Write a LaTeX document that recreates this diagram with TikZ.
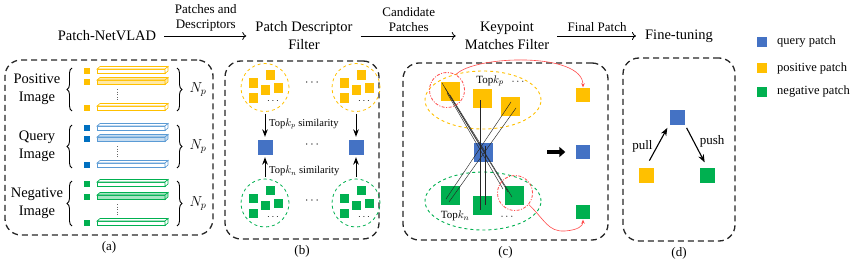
\documentclass[tikz,border=0pt]{standalone}
\usepackage{fontspec}
\setmainfont{Liberation Serif}
\usepackage{tikz}
\usetikzlibrary{arrows.meta,positioning,calc,decorations.pathreplacing,shapes.geometric}

\definecolor{posc}{HTML}{FFC000}
\definecolor{qryc}{HTML}{4472C4}
\definecolor{qryd}{HTML}{0070C0}
\definecolor{qrybar}{HTML}{5B9BD5}
\definecolor{negc}{HTML}{00B050}
\definecolor{matchred}{HTML}{FF4B4B}

\begin{document}
\begin{tikzpicture}[x=1pt, y=1pt,
    font=\fontsize{13}{15}\selectfont,
    >=Stealth,
    title/.style={font=\fontsize{14.5}{18}\selectfont, align=center, inner sep=4pt},
    panel/.style={draw=black!85, line width=1.3pt, dash pattern=on 6pt off 4pt,
                  rounded corners=16pt, inner sep=0pt},
    flow/.style={-{To[length=4pt,width=8pt]}, line width=0.8pt, shorten <=4pt, shorten >=5pt},
    patchsq/.style={minimum size=#1, inner sep=0pt, draw=white, line width=0.4pt},
    poscirc/.style={circle, draw=posc, dashed, line width=0.8pt, minimum size=48pt, inner sep=0pt},
    negcirc/.style={circle, draw=negc, dashed, line width=0.8pt, minimum size=48pt, inner sep=0pt},
    posell/.style={ellipse, draw=posc, dashed, line width=0.9pt, minimum width=116pt, minimum height=58pt},
    negell/.style={ellipse, draw=negc, dashed, line width=0.9pt, minimum width=116pt, minimum height=58pt},
    redring/.style={circle, draw=matchred, line width=0.8pt, minimum size=35pt, inner sep=0pt,
                    dash pattern=on 3pt off 1.5pt on 1pt off 1.5pt},
    match/.style={line width=0.45pt, black!85},
    redlink/.style={-{Stealth[length=4pt,width=3.5pt]}, matchred, line width=0.6pt},
    simlbl/.style={font=\fontsize{10.5}{12}\selectfont, anchor=west, inner sep=1pt},
    toplbl/.style={font=\fontsize{11}{13}\selectfont, inner sep=1pt},
    bar/.style={draw=#1, line width=0.6pt},
    brc/.style={decorate, decoration={brace, amplitude=5pt}, line width=0.9pt},
    ]
\useasboundingbox (0,0) rectangle (856,-262);

% ---- pipeline titles ----
\node[title] (netvlad) at (107,-36) {Patch-NetVLAD};
\node[title] (pdf) at (304,-36) {Patch Descriptor\\Filter};
\node[title] (kmf) at (507,-36) {Keypoint\\Matches Filter};
\node[title] (ft) at (679,-36) {Fine-tuning};

\draw[flow] (netvlad) -- (pdf) node[midway, above=1pt, align=center] (lbl1) {Patches and\\Descriptors};
\draw[flow] (pdf) -- (kmf) node[midway, above=1pt, align=center] (lbl2) {Candidate\\Patches};
\draw[flow] (kmf) -- (ft) node[midway, above=1pt] (lbl3) {Final Patch};

% ---- legend ----
\node[patchsq=11pt, fill=qryc] (lq) at (762,-42) {};
\node[patchsq=11pt, fill=posc] (lp) at (762,-68) {};
\node[patchsq=11pt, fill=negc] (ln) at (762,-92) {};
\node[right=6pt of lq, font=\fontsize{12.5}{14}\selectfont] (lqt) {query patch};
\node[right=6pt of lp, font=\fontsize{12.5}{14}\selectfont] (lpt) {positive patch};
\node[right=6pt of ln, font=\fontsize{12.5}{14}\selectfont] (lnt) {negative patch};

% ---- panels ----
\node[panel, minimum width=208pt, minimum height=175pt] (pa) at (109,-147.5) {};
\node[panel, minimum width=154pt, minimum height=178pt] (pb) at (302,-150) {};
\node[panel, minimum width=205pt, minimum height=177pt] (pc) at (505.5,-151.5) {};
\node[panel, minimum width=112pt, minimum height=183pt] (pd) at (679,-149.5) {};
\node[below=2pt of pa] (pa-cap) {(a)};
\node[below=2pt of pb] (pb-cap) {(b)};
\node[below=2pt of pc] (pc-cap) {(c)};
\node[below=2pt of pd] (pd-cap) {(d)};

% ---- (a) descriptors per image ----
\foreach \col/\dk/\lit/\ya/\yb/\yc/\txt [count=\i] in
   {posc/posc/posc!35/71/82/108/Positive,
    qrybar/qryd/qrybar!35/128/139/165/Query,
    negc/negc/negc!35/184/197/223/Negative} {
  \node[title, inner sep=0pt] (img\i) at (37,{-(\ya+\yc)/2}) {\txt\\Image};
  \foreach \y [count=\j] in {\ya,\yb,\yc}
    \node[patchsq=7pt, fill=\dk] (sq\i-\j) at (87,-\y) {};
  \foreach \y/\f in {\ya/white, \yb/\lit, \yc/white} {
    \filldraw[bar=\col, fill=\f] (97,{-\y-2.5}) rectangle (165,{-\y+2});
    \filldraw[bar=\col, fill=\f] (97,{-\y+2}) -- (100,{-\y+4.5}) -- (168,{-\y+4.5}) -- (165,{-\y+2}) -- cycle;
    \filldraw[bar=\col, fill=\f] (165,{-\y+2}) -- (168,{-\y+4.5}) -- (168,{-\y}) -- (165,{-\y-2.5}) -- cycle;
  }
  \draw[black!60, line width=0.6pt, dash pattern=on 0.6pt off 2pt] (117,{-\yb-7}) -- (117,{-\yc+7});
  \draw[brc] (72,{-\yc-3}) -- (72,{-\ya+3});
  \draw[brc] (177,{-\ya+3}) -- (177,{-\yc-3});
  \node[font=\fontsize{14.5}{17}\selectfont] (np\i) at (198,{-(\ya+\yc)/2}) {$N_p$};
}

% ---- (b) top-k similarity ----
\foreach \cx/\nm in {265/l, 356/r} {
  \node[poscirc] (bp\nm) at (\cx,-87.5) {};
  \node[negcirc] (bn\nm) at (\cx,-203) {};
  \foreach \dx/\dy [count=\k] in {-12/-5, 5/-13, 0/2, 13/0, -12/10} {
    \node[patchsq=10.5pt, fill=posc] (bp\nm-\k) at ({\cx+\dx},{-87.5-\dy}) {};
    \node[patchsq=10.5pt, fill=negc] (bn\nm-\k) at ({\cx+\dx},{-203-\dy}) {};
  }
  \node[inner sep=0pt, font=\fontsize{10}{12}\selectfont] (bp\nm-dots) at ({\cx+8},-101) {$\cdots$};
  \node[inner sep=0pt, font=\fontsize{10}{12}\selectfont] (bn\nm-dots) at ({\cx+8},-217) {$\cdots$};
  \node[patchsq=16pt, fill=qryc] (bq\nm) at (\cx,-147) {};
  \draw[->, line width=1pt, shorten <=2pt, shorten >=2pt] (bp\nm) -- (bq\nm);
  \draw[->, line width=1pt, shorten <=2pt, shorten >=2pt] (bn\nm) -- (bq\nm);
}
\node[simlbl] (simp) at (268,-124) {Top$k_p$ similarity};
\node[simlbl] (simn) at (268,-171) {Top$k_n$ similarity};
\node[inner sep=0pt] (bdots1) at (312,-83) {$\cdots$};
\node[inner sep=0pt] (bdots2) at (312,-145) {$\cdots$};
\node[inner sep=0pt] (bdots3) at (312,-201) {$\cdots$};

% ---- (c) keypoint matches ----
\node[posell] (yell) at (483,-100) {};
\node[negell] (gell) at (483,-201) {};
\node[patchsq=20pt, fill=posc] (cy1) at (450,-91) {};
\node[patchsq=20pt, fill=posc] (cy2) at (482,-98) {};
\node[patchsq=20pt, fill=posc] (cy3) at (510,-106) {};
\node[patchsq=20pt, fill=qryc] (cq) at (483,-152) {};
\node[patchsq=20pt, fill=negc] (cg1) at (450,-195) {};
\node[patchsq=20pt, fill=negc] (cg2) at (482,-205) {};
\node[patchsq=20pt, fill=negc] (cg3) at (514,-195) {};
\node[toplbl] (topkp) at (490,-81) {Top$k_p$};
\node[toplbl] (cdots1) at (518,-82) {$\cdots$};
\node[toplbl] (topkn) at (455,-216) {Top$k_n$};
\node[toplbl] (cdots2) at (507,-217) {$\cdots$};
% match lines
\draw[match] ($(cy1)+(-8,8)$) -- ($(cg3)+(-2,-2)$);
\draw[match] ($(cy1)+(-5,3)$) -- ($(cg3)+(-6,3)$);
\draw[match] ($(cy1)+(-3,-2)$) -- ($(cg3)+(-11,6)$);
\draw[match] ($(cy1)+(0,-4)$) -- ($(cq)+(3,-1)$);
\draw[match] ($(cg1)+(-4,-4)$) -- ($(cy3)+(1,4)$);
\draw[match] ($(cg1)+(-1,-7)$) -- ($(cy3)+(6,-2)$);
\draw[match] ($(cy2)+(-2,-2)$) -- ($(cg2)+(-2,-5)$);
\draw[match] ($(cq)+(2,6)$) -- ($(cg2)+(3,0)$);
\node[redring] (rc1) at (447,-90) {};
\node[redring] (rc2) at (515,-193) {};
% selected patches
\node[patchsq=15pt, fill=posc] (fy) at (583,-95) {};
\node[patchsq=15pt, fill=qryc] (fb) at (583,-152) {};
\node[patchsq=15pt, fill=negc] (fg) at (583,-212) {};
\coordinate (sel) at (547,-152);
\draw[-{Triangle[length=6pt,width=10pt]}, line width=3.5pt, shorten >=10pt] (sel) -- (fb);
\draw[redlink] (rc1.60) .. controls (475,-55) and (583,-52) .. (fy.north);
\draw[redlink] (rc2.-40) .. controls (545,-220) and (548,-232) .. (565,-231)
      .. controls (578,-230) and (583,-226) .. (fg.south);

% ---- (d) fine-tuning ----
\node[patchsq=16pt, fill=qryc] (dq) at (677,-117) {};
\node[patchsq=16pt, fill=posc] (dp) at (646,-175) {};
\node[patchsq=16pt, fill=negc] (dn) at (707,-175) {};
\draw[->, line width=1.1pt, shorten <=7pt, shorten >=3pt] (dp.north) -- (dq.south west)
      node[midway, left=1pt] (pull) {pull};
\draw[->, line width=1.1pt, shorten <=3pt, shorten >=5pt] (dq.south east) -- (dn.north)
      node[pos=0.4, right=2pt] (push) {push};
\end{tikzpicture}
\end{document}
